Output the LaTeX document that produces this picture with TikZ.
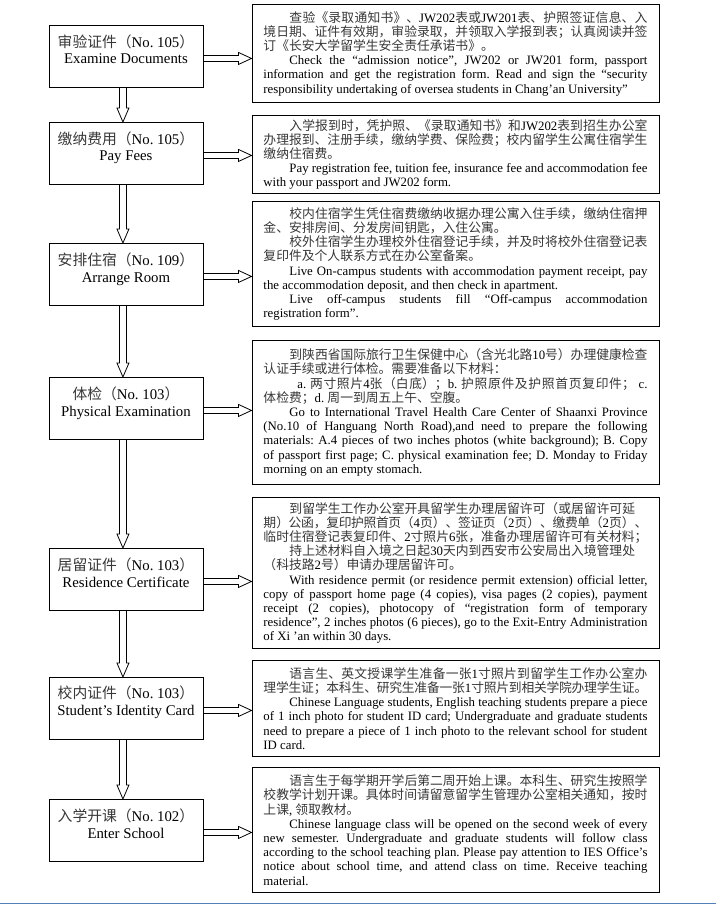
\documentclass[tikz,border=0pt]{standalone}
\usepackage{fontspec}
\setmainfont{Liberation Serif}
\newfontfamily\cjkf{Noto Sans CJK SC}
\usetikzlibrary{calc}
\XeTeXlinebreaklocale "zh"
\XeTeXlinebreakskip=0pt plus 2pt minus 0.4pt
\tolerance=9000
\hbadness=10000
\linepenalty=1000
\frenchspacing
\newcommand\zh[1]{{\cjkf\color{black!78}#1}}
\newcommand\ind{\hspace*{26pt}}
\definecolor{bluebar}{RGB}{84,128,185}
\tikzset{
  lbox/.style={draw, line width=0.9pt, minimum width=154pt, minimum height=62pt, inner sep=0pt, anchor=north west},
  ltxt/.style={font=\fontsize{14.8}{17.5}\selectfont, inner sep=0pt, anchor=base},
  rbox/.style={draw, line width=0.9pt, text width=384pt, inner xsep=11.5pt, inner ysep=0pt, align=justify, anchor=north west, font=\fontsize{12.8}{14.2}\selectfont},
  blockarr/.style={draw, line width=0.8pt, line join=miter},
}
\newcommand\vconn[2]{\draw[blockarr] let \p1=(#1.south), \p2=(#2.north) in
  (\x1-6.5pt,\y1) -- (\x1-6.5pt,\y2+14pt) -- (\x1-9pt,\y2+14pt) -- (\x1-3pt,\y2)
  -- (\x1+3pt,\y2+14pt) -- (\x1+0.5pt,\y2+14pt) -- (\x1+0.5pt,\y1);}
\newcommand\hconn[2]{\draw[blockarr] let \p1=(#1.east), \p2=(#2.west) in
  (\x1,\y1+1pt) -- (\x2-13pt,\y1+1pt) -- (\x2-13pt,\y1+4pt) -- (\x2,\y1-2pt)
  -- (\x2-13pt,\y1-8pt) -- (\x2-13pt,\y1-5pt) -- (\x1,\y1-5pt);}
\begin{document}
\begin{tikzpicture}[x=1pt,y=-1pt]
\fill[white] (0,0) rectangle (716,904);
\useasboundingbox (0,0) rectangle (716,904);
\draw[bluebar, line width=1pt] (0,903.5) -- (716,903.5);

% left step boxes
\node[lbox] (b1) at (48.5,25) {};
\node[lbox] (b2) at (48.5,122) {};
\node[lbox] (b3) at (48.5,243) {};
\node[lbox] (b4) at (48.5,377) {};
\node[lbox] (b5) at (48.5,548) {};
\node[lbox] (b6) at (48.5,677) {};
\node[lbox] (b7) at (48.5,799) {};

\node[ltxt] (t1a) at ($(b1.north)+(0,22.5)$) {\zh{审验证件（}No. 105\zh{）}};
\node[ltxt] (t1b) at ($(b1.north)+(0,39)$) {Examine Documents};
\node[ltxt] (t2a) at ($(b2.north)+(0,22.5)$) {\zh{缴纳费用（}No. 105\zh{）}};
\node[ltxt] (t2b) at ($(b2.north)+(0,39)$) {Pay Fees};
\node[ltxt] (t3a) at ($(b3.north)+(0,22.5)$) {\zh{安排住宿（}No. 109\zh{）}};
\node[ltxt] (t3b) at ($(b3.north)+(0,39)$) {Arrange Room};
\node[ltxt] (t4a) at ($(b4.north)+(0,22.5)$) {\zh{体检（}No. 103\zh{）}};
\node[ltxt] (t4b) at ($(b4.north)+(0,39)$) {Physical Examination};
\node[ltxt] (t5a) at ($(b5.north)+(0,22.5)$) {\zh{居留证件（}No. 103\zh{）}};
\node[ltxt] (t5b) at ($(b5.north)+(0,39)$) {Residence Certificate};
\node[ltxt] (t6a) at ($(b6.north)+(0,21.5)$) {\zh{校内证件（}No. 103\zh{）}};
\node[ltxt] (t6b) at ($(b6.north)+(0,38)$) {Student’s Identity Card};
\node[ltxt] (t7a) at ($(b7.north)+(0,22.5)$) {\zh{入学开课（}No. 102\zh{）}};
\node[ltxt] (t7b) at ($(b7.north)+(0,39)$) {Enter School};

% right description boxes
\node[rbox, minimum height=98pt] (r1) at (251.5,4) {%
\ind\zh{查验《录取通知书》、}JW202\zh{表或}JW201\zh{表、护照签证信息、入}\linebreak
\zh{境日期、证件有效期，审验录取，并领取入学报到表；认真阅读并签}\linebreak
\zh{订《长安大学留学生安全责任承诺书》。}\par
\ind Check the “admission notice”, JW202 or JW201 form, passport\linebreak
information and get the registration form. Read and sign the “security\linebreak
responsibility undertaking of oversea students in Chang’an University”};

\node[rbox, minimum height=78pt] (r2) at (251.5,115) {%
\ind\zh{入学报到时，凭护照、《录取通知书》和}JW202\zh{表到招生办公室}\linebreak
\zh{办理报到、注册手续，缴纳学费、保险费；校内留学生公寓住宿学生}\linebreak
\zh{缴纳住宿费。}\par
\ind Pay registration fee, tuition fee, insurance fee and accommodation fee\linebreak
with your passport and JW202 form.};

\node[rbox, minimum height=125pt] (r3) at (251.5,201) {%
\ind\zh{校内住宿学生凭住宿费缴纳收据办理公寓入住手续，缴纳住宿押}\linebreak
\zh{金、安排房间、分发房间钥匙，入住公寓。}\par
\ind\zh{校外住宿学生办理校外住宿登记手续，并及时将校外住宿登记表}\linebreak
\zh{复印件及个人联系方式在办公室备案。}\par
\ind Live On-campus students with accommodation payment receipt, pay\linebreak
the accommodation deposit, and then check in apartment.\par
\ind Live off-campus students fill “Off-campus accommodation\linebreak
registration form”.};

\node[rbox, minimum height=144pt] (r4) at (251.5,340) {%
\ind\zh{到陕西省国际旅行卫生保健中心（含光北路}10\zh{号）办理健康检查}\linebreak
\zh{认证手续或进行体检。需要准备以下材料：}\par
\hspace*{34pt}a. \zh{两寸照片}4\zh{张（白底）；}b. \zh{护照原件及护照首页复印件；} c.\linebreak
\zh{体检费；}d. \zh{周一到周五上午、空腹。}\par
\ind Go to International Travel Health Care Center of Shaanxi Province\linebreak
(No.10 of Hanguang North Road),and need to prepare the following\linebreak
materials: A.4 pieces of two inches photos (white background); B. Copy\linebreak
of passport first page; C. physical examination fee; D. Monday to Friday\linebreak
morning on an empty stomach.};

\node[rbox, minimum height=151pt] (r5) at (251.5,497) {%
\ind\zh{到留学生工作办公室开具留学生办理居留许可（或居留许可延}\newline
\zh{期）公函，复印护照首页（}4\zh{页）、签证页（}2\zh{页）、缴费单（}2\zh{页）、}\linebreak
\zh{临时住宿登记表复印件、}2\zh{寸照片}6\zh{张，准备办理居留许可有关材料；}\par
\ind\zh{持上述材料自入境之日起}30\zh{天内到西安市公安局出入境管理处}\newline
\zh{（科技路}2\zh{号）申请办理居留许可。}\par
\ind With residence permit (or residence permit extension) official letter,\linebreak
copy of passport home page (4 copies), visa pages (2 copies), payment\linebreak
receipt (2 copies), photocopy of “registration form of temporary\linebreak
residence”, 2 inches photos (6 pieces), go to the Exit-Entry Administration\linebreak
of Xi 'an within 30 days.};

\node[rbox, minimum height=96pt] (r6) at (251.5,660) {%
\ind\zh{语言生、英文授课学生准备一张}1\zh{寸照片到留学生工作办公室办}\linebreak
\zh{理学生证；本科生、研究生准备一张}1\zh{寸照片到相关学院办理学生证。}\par
\ind Chinese Language students, English teaching students prepare a piece\linebreak
of 1 inch photo for student ID card; Undergraduate and graduate students\linebreak
need to prepare a piece of 1 inch photo to the relevant school for student\linebreak
ID card.};

\node[rbox, minimum height=125pt] (r7) at (251.5,767) {%
\ind\zh{语言生于每学期开学后第二周开始上课。本科生、研究生按照学}\linebreak
\zh{校教学计划开课。具体时间请留意留学生管理办公室相关通知，按时}\linebreak
\zh{上课}, \zh{领取教材。}\par
\ind Chinese language class will be opened on the second week of every\linebreak
new semester. Undergraduate and graduate students will follow class\linebreak
according to the school teaching plan. Please pay attention to IES Office’s\linebreak
notice about school time, and attend class on time. Receive teaching\linebreak
material.};

% connectors
\vconn{b1}{b2}
\vconn{b2}{b3}
\vconn{b3}{b4}
\vconn{b4}{b5}
\vconn{b5}{b6}
\vconn{b6}{b7}
\hconn{b1}{r1}
\hconn{b2}{r2}
\hconn{b3}{r3}
\hconn{b4}{r4}
\hconn{b5}{r5}
\hconn{b6}{r6}
\hconn{b7}{r7}
\end{tikzpicture}
\end{document}
